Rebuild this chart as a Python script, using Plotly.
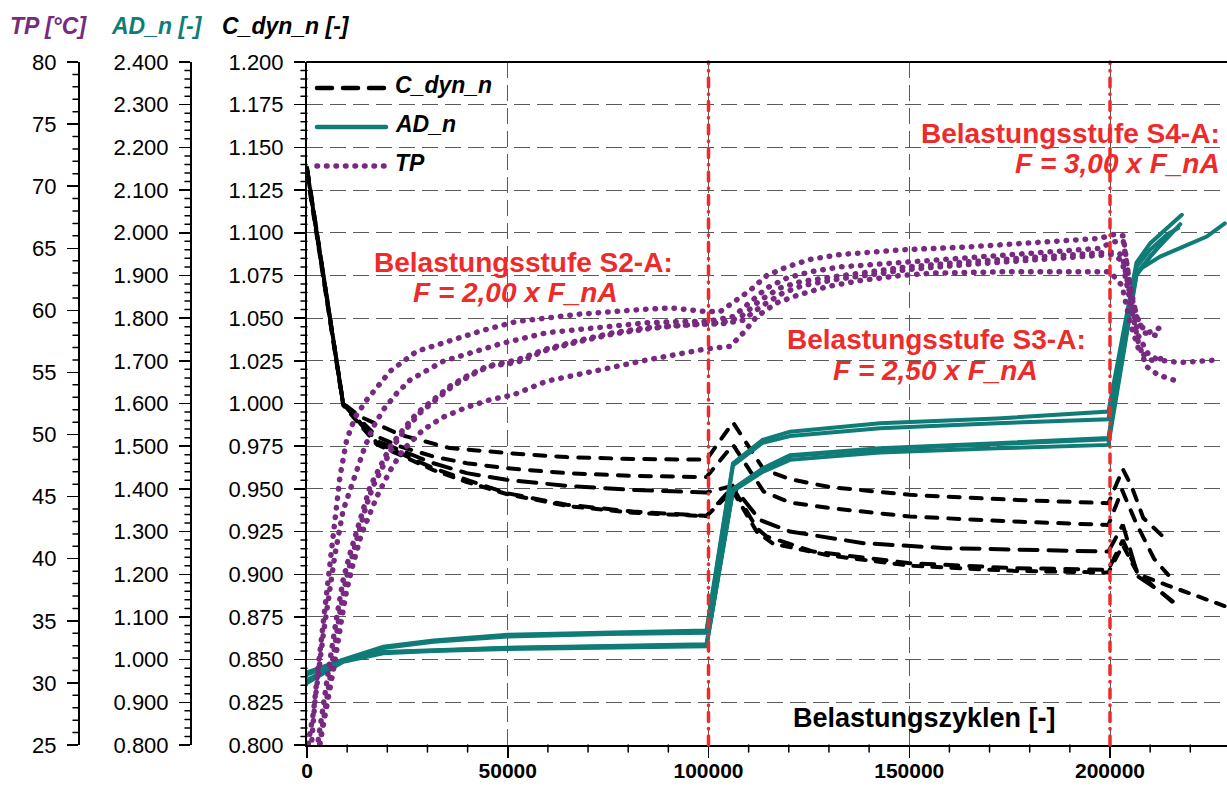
import plotly.graph_objects as go

# ---------------------------------------------------------------------------
# Figure geometry (pixels)
W, H = 1227, 787
PLOT_L, PLOT_T, PLOT_B = 307, 62, 745
AX_AD_PX, AX_TP_PX = 191, 79          # free y axes (pixel column of the axis line)


def xp(px):
    """pixel column -> paper x"""
    return px / W


def yp(py):
    """pixel row -> paper y"""
    return (PLOT_B - py) / (PLOT_B - PLOT_T)


# ---------------------------------------------------------------------------
# Stage limits (load cycles)
stage_limits = [100000, 200000]
stage_labels = [
    ("Belastungsstufe S2-A:", "F = 2,00 x F_nA"),
    ("Belastungsstufe S3-A:", "F = 2,50 x F_nA"),
    ("Belastungsstufe S4-A:", "F = 3,00 x F_nA"),
]

# C_dyn_n – normalised dynamic stiffness, five specimens
cyc_c1 = [0, 9000, 13200, 23200, 35600, 49700, 64700, 81200, 99500, 106100,
          113700, 120300, 130300, 150200, 175900, 199600, 203200, 205400, 208300, 214100]
cdyn_1 = [1.138, 1.000, 0.9924, 0.9817, 0.9739, 0.9710, 0.9686, 0.9675, 0.9671, 0.9889,
          0.9615, 0.9557, 0.9510, 0.9465, 0.9436, 0.9416, 0.9616, 0.9514, 0.9329, 0.9201]

cyc_c2 = [0, 9000, 17400, 23200, 31500, 39800, 49700, 64700, 81200, 99500,
          106100, 113700, 120300, 130300, 150200, 175900, 199600, 203000, 206500, 211000,
          214500]
cdyn_2 = [1.136, 1.000, 0.9807, 0.9748, 0.9689, 0.9650, 0.9621, 0.9592, 0.9576, 0.9569,
          0.9758, 0.9485, 0.9420, 0.9387, 0.9338, 0.9309, 0.9289, 0.9494, 0.9300, 0.9090,
          0.8996]

cyc_c3 = [0, 9000, 17400, 23200, 31500, 39800, 49700, 64700, 81200, 99500,
          106000, 112800, 120300, 138600, 159300, 199600, 203200, 207000, 212500, 215400]
cdyn_3 = [1.137, 1.000, 0.9780, 0.9729, 0.9650, 0.9592, 0.9553, 0.9518, 0.9494, 0.9479,
          0.9518, 0.9318, 0.9250, 0.9182, 0.9153, 0.9133, 0.9290, 0.8986, 0.8900, 0.8840]

cyc_c4 = [0, 9000, 17400, 23200, 31500, 39800, 49700, 64700, 81200, 99500,
          106000, 112000, 114500, 126100, 150200, 175900, 199600, 203200, 206600, 210800,
          217400]
cdyn_4 = [1.138, 1.000, 0.9770, 0.9710, 0.9621, 0.9553, 0.9475, 0.9407, 0.9367, 0.9342,
          0.9510, 0.9270, 0.9221, 0.9133, 0.9065, 0.9036, 0.9026, 0.9200, 0.9026, 0.8928,
          0.8810]

cyc_c5 = [0, 9000, 17400, 23200, 31500, 39800, 49700, 64700, 81200, 99500,
          106000, 112000, 116000, 130000, 150200, 175900, 199600, 203200, 207000, 214100,
          221200, 229000]
cdyn_5 = [1.135, 0.999, 0.976, 0.970, 0.961, 0.954, 0.947, 0.940, 0.936, 0.934,
          0.949, 0.925, 0.918, 0.911, 0.905, 0.902, 0.901, 0.917, 0.900, 0.8937,
          0.8879, 0.881]

# AD_n – normalised damping work, five specimens
cyc_a1 = [0, 9000, 19000, 31500, 50000, 75000, 99500, 106100, 113500, 120300,
          142700, 171800, 199600, 206600, 210000, 214100, 217900]
ad_1 = [0.970, 1.000, 1.030, 1.045, 1.058, 1.064, 1.068, 1.460, 1.515, 1.534,
        1.554, 1.565, 1.581, 1.930, 1.975, 2.010, 2.042]

cyc_a2 = [0, 9000, 19000, 31500, 50000, 75000, 99500, 106100, 113500, 120300,
          142700, 171800, 199600, 206600, 210000, 214100, 217000]
ad_2 = [0.965, 0.998, 1.027, 1.042, 1.054, 1.060, 1.063, 1.455, 1.508, 1.524,
        1.542, 1.554, 1.563, 1.920, 1.960, 1.995, 2.011]

cyc_a3 = [0, 9000, 19000, 31500, 50000, 75000, 99500, 106100, 113500, 120300,
          142700, 171800, 199600, 206600, 212500, 217400, 224100, 228600]
ad_3 = [0.948, 0.997, 1.018, 1.022, 1.028, 1.032, 1.036, 1.400, 1.448, 1.479,
        1.495, 1.507, 1.519, 1.910, 1.944, 1.964, 1.991, 2.022]

cyc_a4 = [0, 9000, 19000, 31500, 50000, 75000, 99500, 106100, 113500, 120300,
          142700, 171800, 199600, 206600, 210000, 214000, 217500]
ad_4 = [0.945, 0.995, 1.015, 1.020, 1.025, 1.029, 1.031, 1.395, 1.440, 1.468,
        1.485, 1.495, 1.503, 1.900, 1.945, 1.985, 2.020]

cyc_a5 = [0, 9000, 19000, 31500, 50000, 75000, 99500, 106100, 113500, 120300,
          142700, 171800, 199600, 206600, 211000, 215000]
ad_5 = [0.952, 0.996, 1.017, 1.021, 1.027, 1.031, 1.034, 1.399, 1.446, 1.477,
        1.493, 1.505, 1.516, 1.905, 1.955, 2.000]

# TP – specimen temperature in °C, five specimens
cyc_t1 = [300, 1600, 2800, 4100, 5700, 7000, 8200, 9900, 12000, 14900,
          20700, 27300, 35600, 43900, 52200, 68000, 84600, 90400, 99500, 102900,
          110300, 114500, 119500, 125300, 132800, 141000, 149400, 164300, 180900, 197500,
          200800, 203300, 204500, 205800, 207500, 209500, 212500]
tp_1 = [25.1, 27.6, 31.3, 35.1, 39.4, 42.6, 46.6, 49.6, 51.4, 52.8,
        55.1, 56.7, 57.6, 58.4, 59.1, 59.7, 60.1, 60.2, 59.9, 59.9,
        61.6, 62.8, 63.5, 64.1, 64.5, 64.7, 64.9, 65.1, 65.4, 65.8,
        66.1, 66.0, 63.0, 60.5, 58.8, 58.2, 58.6]

cyc_t2 = [1200, 2000, 4100, 7000, 9000, 11500, 14400, 16500, 19000, 22300,
          25700, 33900, 39800, 48100, 59700, 68000, 76300, 84600, 92900, 99500,
          106200, 110300, 114500, 119500, 125300, 132800, 141000, 149400, 164300, 180900,
          197500, 200500, 203300, 205000, 206600, 208500, 212500]
tp_2 = [25.4, 28.6, 34.0, 40.4, 43.9, 46.3, 49.0, 50.6, 52.0, 53.3,
        54.4, 55.9, 56.5, 57.3, 58.2, 58.5, 58.7, 59.0, 59.1, 59.1,
        59.5, 60.7, 61.8, 62.6, 63.1, 63.5, 63.7, 63.9, 64.2, 64.6,
        65.0, 65.5, 65.6, 62.0, 59.5, 58.2, 57.9]

cyc_t3 = [2800, 4100, 5700, 7400, 9000, 10700, 12400, 14000, 15700, 18200,
          20700, 23200, 27300, 31500, 35600, 39800, 44800, 52200, 59700, 68000,
          76300, 84600, 92900, 99500, 103000, 107800, 112800, 117800, 122800, 131100,
          139400, 149400, 164300, 180900, 197500, 200500, 203000, 205000, 207000, 209500,
          212000, 217400, 226600]
tp_3 = [25.4, 28.6, 31.8, 35.3, 38.3, 40.4, 42.3, 44.2, 45.8, 47.4,
        49.0, 50.1, 51.7, 52.8, 53.9, 54.7, 55.5, 56.0, 56.9, 57.6,
        58.2, 58.6, 58.8, 59.0, 59.0, 59.4, 60.8, 61.8, 62.3, 62.7,
        63.1, 63.5, 63.9, 64.3, 64.7, 64.7, 64.5, 61.0, 58.0, 56.5,
        56.0, 55.8, 56.0]

cyc_t4 = [3200, 4700, 6400, 8000, 9700, 11400, 13000, 14700, 16400, 18900,
          21300, 23800, 28000, 32100, 36300, 40400, 45400, 52200, 59700, 68000,
          76300, 84600, 92900, 99500, 103000, 108500, 113500, 118500, 123500, 132000,
          140000, 150000, 165000, 181000, 197500, 200500, 203000, 205000, 207000, 209000,
          212000, 215800]
tp_4 = [25.1, 28.6, 31.8, 35.3, 38.3, 40.4, 42.3, 44.2, 45.8, 47.4,
        49.0, 50.1, 51.7, 52.8, 53.9, 54.7, 55.5, 55.8, 56.8, 57.5,
        58.1, 58.5, 58.8, 58.9, 58.9, 59.2, 60.4, 61.4, 62.0, 62.5,
        62.9, 63.3, 63.7, 64.1, 64.5, 64.5, 64.0, 60.5, 57.5, 55.5,
        54.8, 54.4]

cyc_t5 = [3200, 5300, 7000, 8600, 9900, 11500, 13600, 17400, 20700, 24000,
          29000, 33900, 39800, 45600, 51400, 59700, 68000, 76300, 84600, 92900,
          99500, 105400, 108700, 112000, 117000, 122000, 129400, 137700, 147700, 156000,
          172600, 200000, 203000, 205000, 207000, 209000, 211000, 214000]
tp_5 = [25.1, 28.6, 31.8, 35.1, 37.5, 39.6, 42.0, 45.0, 47.1, 48.8,
        50.4, 51.4, 52.2, 52.8, 53.2, 54.3, 54.9, 55.4, 56.0, 56.5,
        56.9, 57.1, 58.2, 59.5, 60.6, 61.2, 61.9, 62.4, 62.8, 63.0,
        63.1, 63.1, 62.0, 59.0, 57.0, 56.2, 55.9, 56.3]

# ---------------------------------------------------------------------------
BLACK = "#000000"
TEAL = "#0f7c78"
PURPLE = "#782a80"
RED = "#ee2b2b"
GRID = "#5a5a5a"
FONT = "Liberation Sans, Arial, sans-serif"

fig = go.Figure()

# C_dyn_n (left inner axis)
cdyn_series = [
    (cyc_c1, cdyn_1, "11px,11px"),
    (cyc_c2, cdyn_2, "11px,11px"),
    (cyc_c3, cdyn_3, "18px,11px"),
    (cyc_c4, cdyn_4, "13px,11px"),
    (cyc_c5, cdyn_5, "9px,10px"),
]
for xs, ys, dash in cdyn_series:
    fig.add_trace(go.Scatter(x=xs, y=ys, mode="lines", yaxis="y",
                             line=dict(color=BLACK, width=4, dash=dash),
                             hoverinfo="skip", showlegend=False))

# AD_n (middle axis)
for xs, ys in [(cyc_a1, ad_1), (cyc_a2, ad_2), (cyc_a3, ad_3), (cyc_a4, ad_4), (cyc_a5, ad_5)]:
    fig.add_trace(go.Scatter(x=xs, y=ys, mode="lines", yaxis="y2",
                             line=dict(color=TEAL, width=4),
                             hoverinfo="skip", showlegend=False))

# TP (outer axis)
for xs, ys in [(cyc_t1, tp_1), (cyc_t2, tp_2), (cyc_t3, tp_3), (cyc_t4, tp_4), (cyc_t5, tp_5)]:
    fig.add_trace(go.Scatter(x=xs, y=ys, mode="lines", yaxis="y3",
                             line=dict(color=PURPLE, width=5.5, dash="0.5px,9px"),
                             hoverinfo="skip", showlegend=False))

# ---------------------------------------------------------------------------
tick_font = dict(family=FONT, size=22, color="black")


def y_axis(rng, dtick, fmt, **extra):
    d = dict(range=rng, dtick=dtick, tick0=rng[0], tickformat=fmt,
             ticks="outside", ticklen=11, tickwidth=1.5, tickcolor="black",
             showline=True, linecolor="black", linewidth=2,
             tickfont=tick_font, ticklabelstandoff=6,
             zeroline=False, automargin=False, fixedrange=True)
    d.update(extra)
    return d


fig.update_layout(
    width=W, height=H,
    template="none",
    margin=dict(l=0, r=0, t=PLOT_T, b=H - PLOT_B, pad=0),
    paper_bgcolor="white", plot_bgcolor="white",
    font=dict(family=FONT, color="black"),
    showlegend=False,
    xaxis=dict(domain=[xp(PLOT_L), 1.0], range=[0, 229140],
               tick0=0, dtick=50000, tickformat="d",
               ticks="outside", ticklen=11, tickwidth=1.5, tickcolor="black",
               showline=True, linecolor="black", linewidth=2,
               tickfont=dict(family=FONT, size=21, color="black", weight="bold"),
               ticklabelstandoff=-5,
               showgrid=True, gridcolor=GRID, gridwidth=1, griddash="16px,7px",
               zeroline=False, automargin=False, fixedrange=True),
    yaxis=y_axis([0.8, 1.2], 0.025, ".3f",
                 showgrid=True, gridcolor=GRID, gridwidth=1, griddash="16px,7px"),
    yaxis2=y_axis([0.8, 2.4], 0.1, ".3f", showgrid=False,
                  overlaying="y", anchor="free", position=xp(AX_AD_PX)),
    yaxis3=y_axis([25, 80], 5, "d", showgrid=False,
                  overlaying="y", anchor="free", position=xp(AX_TP_PX)),
)

shapes = []

# minor tick marks (positions in axis units, drawn outside the axis lines)
MINOR_LEN = 6
minor_specs = [  # (yref, start, step, count, every-n-is-major, axis pixel column)
    ("y", 0.8, 0.005, 80, 5, PLOT_L),
    ("y2", 0.8, 0.02, 80, 5, AX_AD_PX),
    ("y3", 25.0, 1.0, 55, 5, AX_TP_PX),
]
for yref, start, step, count, every, axpx in minor_specs:
    for i in range(1, count):
        if i % every == 0:
            continue
        v = start + i * step
        shapes.append(dict(type="line", xref="paper", yref=yref,
                           x0=xp(axpx - MINOR_LEN), x1=xp(axpx), y0=v, y1=v,
                           line=dict(color="black", width=1.5), layer="above"))
for i in range(1, 23):
    if i % 5 == 0:
        continue
    v = i * 10000
    shapes.append(dict(type="line", xref="x", yref="paper", x0=v, x1=v,
                       y0=0, y1=-(MINOR_LEN + 1) / (PLOT_B - PLOT_T),
                       line=dict(color="black", width=1.5), layer="above"))

# stage boundaries
for xs in stage_limits:
    shapes.append(dict(type="line", xref="x", yref="paper", x0=xs, x1=xs, y0=0, y1=1,
                       line=dict(color=RED, width=3.5, dash="9px,7px,0.5px,7px"),
                       layer="above"))
# top frame of the plotting area
shapes.append(dict(type="line", xref="paper", yref="paper", x0=xp(PLOT_L), x1=1, y0=1, y1=1,
                   line=dict(color="black", width=2), layer="above"))
# legend background
shapes.append(dict(type="rect", xref="paper", yref="paper",
                   x0=xp(PLOT_L + 1), x1=xp(503), y0=yp(178), y1=yp(PLOT_T + 1),
                   fillcolor="white", line=dict(width=0), layer="between"))
# legend samples
legend_rows = [
    ("C_dyn_n", 88, dict(color=BLACK, width=4.5, dash="15px,11px")),
    ("AD_n", 127, dict(color=TEAL, width=4.5)),
    ("TP", 166, dict(color=PURPLE, width=5.5, dash="0.5px,9px")),
]
annotations = []
for name, py, ln in legend_rows:
    shapes.append(dict(type="line", xref="paper", yref="paper",
                       x0=xp(317), x1=xp(386), y0=yp(py), y1=yp(py), line=ln, layer="above"))
    annotations.append(dict(xref="paper", yref="paper", x=xp(393), y=yp(py - 3),
                            xanchor="left", yanchor="middle", showarrow=False,
                            text=f"<b><i>{name}</i></b>",
                            font=dict(family=FONT, size=23, color="black")))

# axis headings above the three y axes
for text, col, cx in [("TP [°C]", PURPLE, 49), ("AD_n [-]", TEAL, 157), ("C_dyn_n [-]", BLACK, 286)]:
    annotations.append(dict(xref="paper", yref="paper", x=xp(cx), y=yp(26),
                            xanchor="center", yanchor="middle", showarrow=False,
                            text=f"<b><i>{text}</i></b>",
                            font=dict(family=FONT, size=23, color=col)))

# x axis title inside the plot
annotations.append(dict(xref="paper", yref="paper", x=xp(924), y=yp(718),
                        xanchor="center", yanchor="middle", showarrow=False,
                        text="<b>Belastungszyklen [-]</b>",
                        font=dict(family=FONT, size=27, color="black")))

# stage annotations
stage_pos = [  # (x px, anchor, line-1 y px, line-2 y px, line-2 x px)
    (523, "center", 262, 292, 515),
    (936, "center", 339, 370, 935),
    (1222, "right", 133, 163, 1222),
]
for (l1, l2), (x1px, anc, y1px, y2px, x2px) in zip(stage_labels, stage_pos):
    annotations.append(dict(xref="paper", yref="paper", x=xp(x1px), y=yp(y1px),
                            xanchor=anc, yanchor="middle", showarrow=False,
                            text=f"<b>{l1}</b>",
                            font=dict(family=FONT, size=28, color=RED)))
    annotations.append(dict(xref="paper", yref="paper", x=xp(x2px), y=yp(y2px),
                            xanchor=anc, yanchor="middle", showarrow=False,
                            text=f"<b><i>{l2}</i></b>",
                            font=dict(family=FONT, size=28, color=RED)))

fig.update_layout(shapes=shapes, annotations=annotations)

# round line caps give the dotted temperature curves round dots
round_caps = (
    "var s=document.createElement('style');"
    "s.textContent='.js-line, .shapelayer path{stroke-linecap:round;}';"
    "document.head.appendChild(s);"
)

fig.write_html("out.html", config={"displayModeBar": False, "staticPlot": True},
               post_script=round_caps)
